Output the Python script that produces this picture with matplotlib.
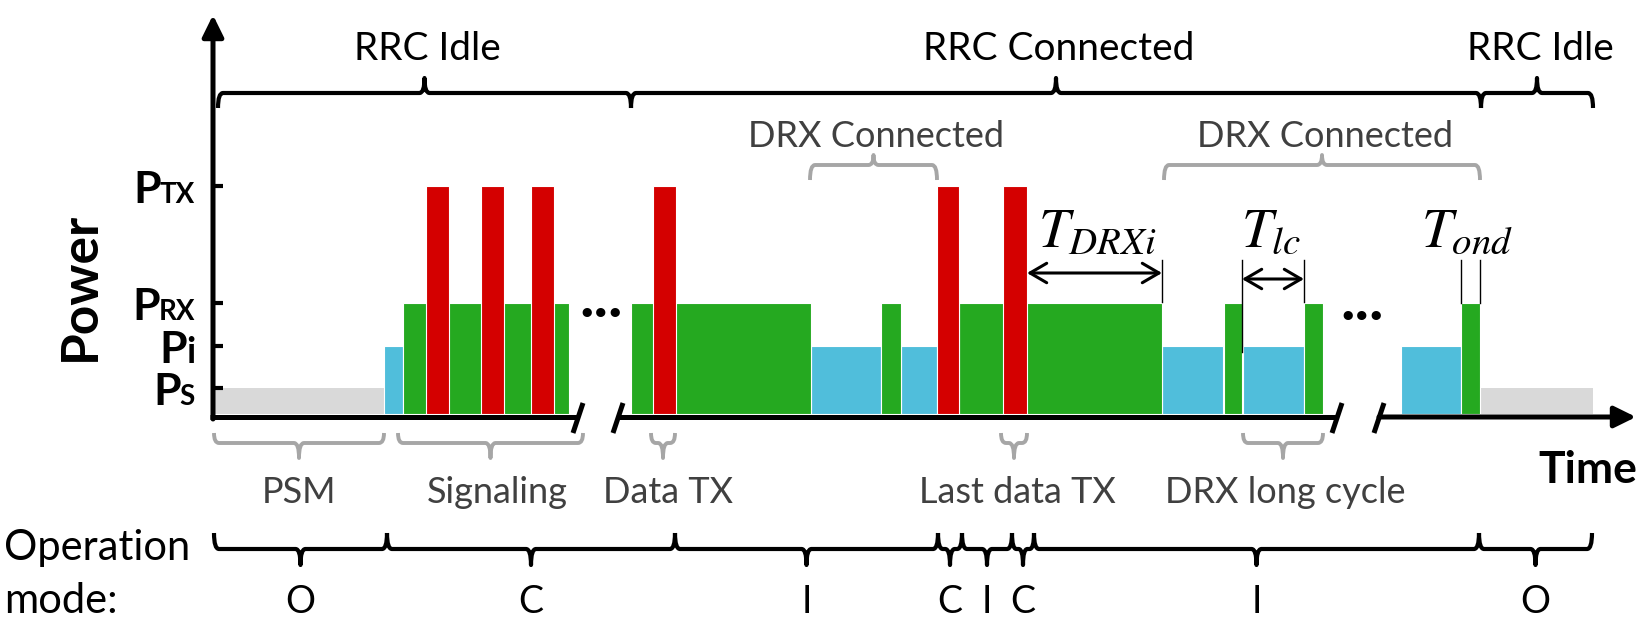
import matplotlib
matplotlib.use('Agg')
import matplotlib.pyplot as plt
from matplotlib.path import Path
from matplotlib.patches import PathPatch

plt.rcParams['font.family'] = ['Lato', 'DejaVu Sans']
plt.rcParams['mathtext.fontset'] = 'stix'

# ---- power levels (arbitrary units, height above the time axis) ----
level_names = ['TX', 'RX', 'i', 'S']
level_values = [228, 111, 68, 26]
P_TX, P_RX, P_I, P_S = level_values

# ---- time segments (arbitrary time units) ----
sleep_segs = [(215, 384), (1480, 1593)]
idle_segs = [(384, 403), (811, 881), (901, 937), (1162, 1223), (1243, 1304), (1401, 1461)]
rx_segs = [(403, 569), (631, 811), (881, 901), (959, 1162), (1224, 1242), (1304, 1323), (1461, 1480)]
tx_segs = [(426, 449), (481, 504), (531, 554), (653, 676), (937, 959), (1003, 1027)]

# RRC states (top brace)
rrc_bounds = [218, 631, 1481, 1593]
rrc_labels = ['RRC Idle', 'RRC Connected', 'RRC Idle']

# DRX connected (grey braces above the bars)
drx_bounds = [(810, 937), (1164, 1480)]
drx_labels = ['DRX Connected', 'DRX Connected']

# phases (grey braces below the axis)
phase_bounds = [(214, 384), (398, 583), (651, 675), (1001, 1027), (1243, 1323)]
phase_labels = ['PSM', 'Signaling', 'Data TX', 'Last data TX', 'DRX long cycle']
phase_text_x = [299, 497, 668, 1017, 1285]

# operation mode
op_bounds = [214, 387, 675, 938, 962, 1012, 1034, 1479, 1592]
op_labels = ['O', 'C', 'I', 'C', 'I', 'C', 'I', 'O']

# timers
t_drxi = (1027, 1162)
t_lc = (1242, 1304)
t_ond = (1461, 1480)

# axis breaks
breaks = [(578, 618), (1337, 1379)]

RED = '#D40000'
GREEN = '#25A920'
BLUE = '#50BEDB'
GREY = '#D9D9D9'
BR_GREY = '#A6A6A6'
TXT_GREY = '#404040'

W, H = 1643, 619
fig = plt.figure(figsize=(W / 100, H / 100), dpi=100)
ax = fig.add_axes([0, 0, 1, 1])
ax.set_xlim(0, W)
ax.set_ylim(0, H)
ax.axis('off')

BASE = 205      # bottom of the bars
AXY = 202       # time axis line
AXX = 213       # power axis line


def brace(x0, x1, y, hook, tip, color, lw, r=5):
    xm = (x0 + x1) / 2
    r = min(r, (x1 - x0) / 5)
    verts = [(x0, y + hook), (x0, y), (x0 + r, y),
             (xm - r, y), (xm, y), (xm, y + tip),
             (xm, y), (xm + r, y),
             (x1 - r, y), (x1, y), (x1, y + hook)]
    codes = [Path.MOVETO, Path.CURVE3, Path.CURVE3,
             Path.LINETO, Path.CURVE3, Path.CURVE3,
             Path.CURVE3, Path.CURVE3,
             Path.LINETO, Path.CURVE3, Path.CURVE3]
    ax.add_patch(PathPatch(Path(verts, codes), fill=False, edgecolor=color,
                           lw=lw, capstyle='butt', joinstyle='round', zorder=4))


def spans(segs):
    return [(s, e - s) for s, e in segs]


# bars
ax.broken_barh(spans(sleep_segs), (BASE, P_S), facecolor=GREY, edgecolor='none', zorder=2)
ax.broken_barh(spans(idle_segs), (BASE, P_I), facecolor=BLUE, edgecolor='white', lw=0.8, zorder=2)
ax.broken_barh(spans(rx_segs), (BASE, P_RX), facecolor=GREEN, edgecolor='white', lw=0.8, zorder=2)
ax.broken_barh(spans(tx_segs), (BASE, P_TX), facecolor=RED, edgecolor='white', lw=0.8, zorder=3)

# power axis + ticks
ax.annotate('', xy=(AXX, 604), xytext=(AXX, AXY - 2),
            arrowprops=dict(arrowstyle='-|>,head_length=0.65,head_width=0.32',
                            mutation_scale=20, lw=3.6, color='k', shrinkA=0, shrinkB=0),
            zorder=5)
renderer = fig.canvas.get_renderer()
for name, val in zip(level_names, level_values):
    ty = BASE + val
    ax.plot([AXX, AXX + 10], [ty, ty], color='k', lw=3, solid_capstyle='butt', zorder=5)
    sub_size = 26 if name == 'i' else 20
    sub = ax.text(195, ty - 17, name, fontsize=sub_size, fontweight='bold',
                  ha='right', va='baseline')
    bb = sub.get_window_extent(renderer)
    ax.text(bb.x0 + 1, ty - 17, 'P', fontsize=32, fontweight='bold', ha='right', va='baseline')

ax.text(80, 333, 'Power', fontsize=37, fontweight='bold', rotation=90, ha='center', va='center')

# time axis with breaks
starts = [AXX - 3] + [b[1] for b in breaks]
ends = [b[0] for b in breaks] + [None]
for s, e in zip(starts, ends):
    if e is None:
        ax.annotate('', xy=(1636, AXY), xytext=(s, AXY),
                    arrowprops=dict(arrowstyle='-|>,head_length=0.65,head_width=0.32',
                                    mutation_scale=20, lw=3.6, color='k', shrinkA=0, shrinkB=0),
                    zorder=5)
    else:
        ax.plot([s, e], [AXY, AXY], color='k', lw=3.6, solid_capstyle='butt', zorder=5)
for b in breaks:
    for x in b:
        ax.plot([x - 5, x + 5], [186, 216], color='k', lw=3.6, solid_capstyle='butt', zorder=5)

ax.text(1588, 136, 'Time', fontsize=32, fontweight='bold', ha='center', va='baseline')
ax.text(601, 302, '...', fontsize=44, fontweight='bold', ha='center', va='baseline')
ax.text(1362, 299, '...', fontsize=44, fontweight='bold', ha='center', va='baseline')

# RRC braces
for x0, x1, lab in zip(rrc_bounds[:-1], rrc_bounds[1:], rrc_labels):
    brace(x0, x1, 526, -15, 15, 'k', 3)
    ax.text((x0 + x1) / 2 + 3, 559, lab, fontsize=28, ha='center', va='baseline')

# DRX connected braces
for (x0, x1), lab in zip(drx_bounds, drx_labels):
    brace(x0, x1, 454, -15, 10, BR_GREY, 2.8)
    ax.text((x0 + x1) / 2 + 3, 472, lab, fontsize=26, color=TXT_GREY, ha='center', va='baseline')

# phase braces
for (x0, x1), lab, tx in zip(phase_bounds, phase_labels, phase_text_x):
    brace(x0, x1, 176, 10, -15, BR_GREY, 2.8)
    ax.text(tx, 116, lab, fontsize=26, color=TXT_GREY, ha='center', va='baseline')

# operation mode
ax.text(4, 59, 'Operation', fontsize=30, ha='left', va='baseline')
ax.text(4, 6, 'mode:', fontsize=30, ha='left', va='baseline')
for x0, x1, lab in zip(op_bounds[:-1], op_bounds[1:], op_labels):
    brace(x0, x1, 70, 16, -16, 'k', 3)
    ax.text((x0 + x1) / 2, 6, lab, fontsize=27, ha='center', va='baseline')

# timers
for x, top, bot in [(t_drxi[1], 359, 317), (t_lc[0], 359, 267), (t_lc[1], 359, 317),
                    (t_ond[0], 359, 316), (t_ond[1], 359, 316)]:
    ax.plot([x, x], [bot, top], color='k', lw=1.0, zorder=4)
for (x0, x1), y in [(t_drxi, 346), (t_lc, 340)]:
    ax.annotate('', xy=(x1, y), xytext=(x0, y),
                arrowprops=dict(arrowstyle='<->,head_length=0.6,head_width=0.35',
                                mutation_scale=20, lw=2.2, color='k', shrinkA=0, shrinkB=0),
                zorder=5)
ax.text(1038, 372, r'$T_{DRXi}$', fontsize=40, ha='left', va='baseline')
ax.text(1241, 372, r'$T_{lc}$', fontsize=40, ha='left', va='baseline')
ax.text(1421, 372, r'$T_{ond}$', fontsize=40, ha='left', va='baseline')

fig.savefig('out.png', dpi=100)
